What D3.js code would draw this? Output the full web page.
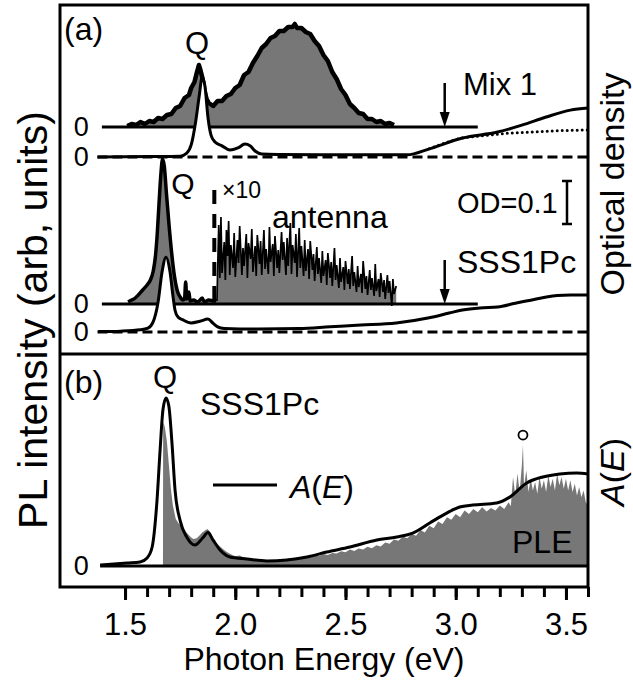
<!DOCTYPE html>
<html lang="en">
<head>
<meta charset="utf-8">
<title>PL, optical density and PLE spectra</title>
<script src="https://d3js.org/d3.v7.min.js"></script>
<style>
  body { margin: 0; background: #fff; }
  text { font-family: "Liberation Sans", Arial, sans-serif; fill: #000; }
</style>
</head>
<body>
<script>
// frame
var w = 633, h = 682;
var frameL = 60, frameR = 588, frameT = 5, frameM = 354, frameB = 587;
var grey = "#777777";

// ---- data (photon energy eV, value) ----
// panel (a): PL in arb. units, OD in optical density
var mix1PL = [[1.51,1],[1.53,3],[1.55,2],[1.57,5],[1.59,3],[1.61,6],[1.63,5],[1.65,9],[1.67,8],[1.69,12],[1.71,13],
  [1.73,19],[1.75,21],[1.77,29],[1.79,32],[1.80,39],[1.815,45],[1.825,54],[1.835,62],[1.842,57],[1.85,50],[1.86,37],
  [1.87,28],[1.88,24],[1.90,21],[1.92,26],[1.94,26],[1.96,31],[1.98,33],[2.00,39],[2.02,42],[2.04,52],[2.06,55],
  [2.08,64],[2.10,71],[2.12,79],[2.14,83],[2.16,89],[2.18,91],[2.20,96],[2.22,96],[2.24,100],[2.26,100],[2.27,103],
  [2.28,99],[2.30,99],[2.32,95],[2.34,93],[2.36,86],[2.38,81],[2.40,72],[2.42,66],[2.44,55],[2.46,48],[2.48,38],
  [2.50,32],[2.52,23],[2.54,19],[2.56,14],[2.58,13],[2.60,8],[2.62,8],[2.64,5],[2.66,6],[2.68,3],[2.70,4],[2.72,2]];

var mix1OD = [[1.375,0],[1.61,0.001],[1.75,0.002],[1.78,0.009],[1.80,0.028],[1.82,0.081],[1.836,0.14],[1.85,0.186],
  [1.863,0.163],[1.876,0.093],[1.89,0.051],[1.908,0.035],[1.94,0.026],[1.976,0.016],[2.012,0.021],[2.044,0.03],
  [2.067,0.026],[2.09,0.014],[2.12,0.007],[2.2,0.006],[2.48,0.005],[2.78,0.005],[2.88,0.019],[3.03,0.044],
  [3.19,0.058],[3.30,0.074],[3.41,0.093],[3.52,0.109],[3.60,0.114]];

// dotted: Mix 1 OD without the scattering background
var mix1ODcorr = [[2.88,0.019],[3.03,0.044],[3.11,0.049],[3.19,0.053],[3.26,0.056],[3.34,0.058],[3.41,0.060],
  [3.52,0.062],[3.60,0.063]];

var sssPL = [[1.514,2],[1.53,4],[1.54,5],[1.56,9],[1.58,14],[1.60,19],[1.615,24],[1.628,33],[1.638,48],[1.646,70],
  [1.654,100],[1.662,128],[1.67,145],[1.678,138],[1.688,110],[1.70,78],[1.712,50],[1.724,28],[1.736,14],[1.75,7],
  [1.763,4],[1.77,5],[1.775,22],[1.78,5],[1.79,12],[1.795,3],[1.81,4],[1.83,2],[1.85,6],[1.86,2],[1.88,4],
  [1.90,3],[1.915,3]];

// antenna emission, true scale (drawn x10)
var antennaPL = [[1.917,0.3],[1.92,3.4],[1.925,7.9],[1.93,2.6],[1.935,8.7],[1.94,3.1],[1.95,6.2],[1.955,2.4],
  [1.96,7.4],[1.965,4.8],[1.97,8.3],[1.975,2.9],[1.98,5.9],[1.99,3.6],[1.995,7.1],[2.00,2.7],[2.01,6.4],[2.015,4.1],
  [2.02,7.8],[2.03,2.9],[2.035,5.6],[2.04,3.8],[2.05,7.0],[2.055,2.6],[2.06,6.1],[2.07,4.5],[2.075,7.5],[2.08,3.2],
  [2.09,5.8],[2.095,2.8],[2.10,6.9],[2.11,4.0],[2.115,6.3],[2.12,2.9],[2.13,7.4],[2.135,3.5],[2.14,5.5],[2.15,3.0],
  [2.155,7.7],[2.16,4.2],[2.17,6.0],[2.175,2.8],[2.18,6.8],[2.19,3.6],[2.195,5.4],[2.20,3.1],[2.21,7.2],[2.215,4.4],
  [2.22,6.2],[2.23,2.9],[2.235,6.6],[2.24,3.8],[2.25,8.1],[2.255,3.0],[2.26,5.9],[2.27,4.1],[2.275,7.0],[2.28,2.7],
  [2.29,7.6],[2.295,3.6],[2.30,5.8],[2.31,2.8],[2.315,6.4],[2.32,3.3],[2.33,5.5],[2.335,2.5],[2.34,6.3],[2.35,3.4],
  [2.355,5.0],[2.36,2.3],[2.37,5.7],[2.375,3.0],[2.38,4.6],[2.39,2.1],[2.395,5.3],[2.40,2.8],[2.41,4.4],[2.415,1.9],
  [2.42,5.1],[2.43,2.6],[2.435,4.2],[2.44,1.8],[2.45,5.6],[2.455,2.4],[2.46,3.9],[2.47,1.6],[2.475,4.6],[2.48,2.2],
  [2.49,3.7],[2.495,1.4],[2.50,4.3],[2.51,2.0],[2.515,3.5],[2.52,1.5],[2.53,4.8],[2.535,1.8],[2.54,3.2],[2.55,1.2],
  [2.555,3.8],[2.56,1.7],[2.57,3.0],[2.575,1.1],[2.58,4.3],[2.59,1.5],[2.595,2.8],[2.60,0.9],[2.61,3.4],[2.615,1.4],
  [2.62,2.6],[2.63,0.8],[2.635,4.0],[2.64,1.3],[2.65,2.5],[2.655,0.7],[2.66,3.1],[2.67,1.2],[2.675,2.4],[2.68,0.5],
  [2.69,2.9],[2.695,1.1],[2.70,2.3],[2.71,-0.2],[2.715,2.5],[2.72,1.0],[2.73,1.8]];

var sssOD = [[1.378,0.001],[1.48,0.002],[1.57,0.005],[1.604,0.009],[1.627,0.023],[1.65,0.07],[1.668,0.14],
  [1.686,0.174],[1.704,0.14],[1.718,0.081],[1.727,0.05],[1.74,0.035],[1.763,0.028],[1.80,0.021],[1.84,0.025],
  [1.876,0.03],[1.90,0.02],[1.92,0.012],[1.95,0.008],[2.02,0.007],[2.11,0.007],[2.29,0.008],[2.43,0.012],
  [2.57,0.016],[2.73,0.021],[2.88,0.033],[2.97,0.044],[3.03,0.051],[3.11,0.056],[3.19,0.058],[3.27,0.067],
  [3.34,0.074],[3.405,0.081],[3.46,0.085],[3.52,0.086],[3.60,0.086]];

// panel (b): absorptance A(E) and PLE, normalised to the Q peak of A(E)
var absorptance = [[1.387,0.006],[1.509,0.018],[1.568,0.024],[1.60,0.048],[1.623,0.113],[1.645,0.39],[1.659,0.69],
  [1.672,0.93],[1.686,1.0],[1.699,0.95],[1.713,0.73],[1.727,0.45],[1.75,0.27],[1.781,0.17],[1.817,0.125],
  [1.854,0.17],[1.876,0.2],[1.899,0.155],[1.931,0.095],[1.976,0.054],[2.053,0.042],[2.143,0.03],[2.234,0.036],
  [2.325,0.054],[2.415,0.083],[2.52,0.113],[2.642,0.155],[2.733,0.173],[2.805,0.196],[2.882,0.256],[2.959,0.315],
  [3.018,0.351],[3.077,0.363],[3.186,0.375],[3.245,0.41],[3.322,0.494],[3.395,0.53],[3.472,0.548],[3.549,0.554],
  [3.6,0.548]];

var ple = [[1.672,0],[1.673,0.857],[1.68,0.83],[1.69,0.74],[1.699,0.60],[1.708,0.46],[1.717,0.36],[1.73,0.28],
  [1.745,0.25],[1.76,0.245],[1.77,0.21],[1.785,0.19],[1.80,0.17],[1.81,0.16],[1.825,0.165],[1.84,0.185],[1.85,0.20],
  [1.866,0.215],[1.875,0.22],[1.89,0.195],[1.90,0.16],[1.92,0.13],[1.94,0.105],[1.96,0.085],[1.98,0.07],[2.00,0.058],
  [2.02,0.062],[2.04,0.05],[2.06,0.046],[2.08,0.04],[2.10,0.042],[2.12,0.034],[2.14,0.036],[2.16,0.03],[2.18,0.034],
  [2.20,0.038],[2.22,0.035],[2.24,0.044],[2.26,0.04],[2.28,0.05],[2.30,0.047],[2.32,0.058],[2.34,0.055],[2.36,0.068],
  [2.38,0.06],[2.40,0.072],[2.42,0.066],[2.44,0.078],[2.46,0.074],[2.48,0.088],[2.50,0.082],[2.52,0.098],[2.54,0.09],
  [2.56,0.104],[2.58,0.098],[2.60,0.114],[2.62,0.106],[2.64,0.124],[2.66,0.116],[2.68,0.14],[2.70,0.132],[2.72,0.158],
  [2.74,0.15],[2.76,0.175],[2.78,0.165],[2.80,0.19],[2.82,0.18],[2.84,0.215],[2.86,0.2],[2.88,0.24],[2.90,0.225],
  [2.92,0.265],[2.94,0.25],[2.96,0.29],[2.98,0.275],[3.00,0.31],[3.02,0.29],[3.04,0.33],[3.06,0.31],[3.08,0.34],
  [3.10,0.32],[3.12,0.35],[3.14,0.325],[3.16,0.345],[3.18,0.33],[3.20,0.36],[3.22,0.34],[3.24,0.38],[3.25,0.355],
  [3.26,0.53],[3.27,0.42],[3.28,0.55],[3.29,0.44],[3.30,0.6],[3.305,0.72],[3.31,0.47],[3.32,0.57],[3.33,0.44],
  [3.34,0.52],[3.35,0.45],[3.36,0.5],[3.37,0.43],[3.38,0.53],[3.39,0.46],[3.40,0.51],[3.41,0.44],[3.42,0.54],
  [3.43,0.47],[3.44,0.52],[3.45,0.45],[3.46,0.55],[3.47,0.48],[3.48,0.53],[3.49,0.46],[3.50,0.52],[3.51,0.45],
  [3.52,0.51],[3.53,0.44],[3.54,0.49],[3.55,0.42],[3.56,0.47],[3.57,0.41],[3.58,0.45],[3.59,0.38],[3.60,0.36]];

var minorTicks = [1.5,1.6,1.7,1.8,1.9,2.0,2.1,2.2,2.3,2.4,2.5,2.6,2.7,2.8,2.9,3.0,3.1,3.2,3.3,3.4,3.5,3.6];
var majorTicks = [1.5,2.0,2.5,3.0,3.5];

// ---- scales ----
var x = d3.scaleLinear().domain([1.205, 3.6]).range([frameL, frameR]);
// panel (a) in stacked arb. units; 0.1 OD = 43 units
var ya = d3.scaleLinear().domain([-22, 327]).range([frameM, frameT]);
var odGain = 430;
var base = { mixPL: 205, mixOD: 175, sssPL: 28, sssOD: 0 };
var yb = d3.scaleLinear().domain([-0.125, 1.262]).range([frameB, frameM]);

var svg = d3.select("body").append("svg").attr("width", w).attr("height", h);

function lineGen(y, b, k, c) {
  return d3.line().curve(c || d3.curveLinear).x(function(d) { return x(d[0]); })
    .y(function(d) { return y(b + k * d[1]); });
}
function areaGen(y, b, k, c) {
  return d3.area().curve(c || d3.curveLinear).x(function(d) { return x(d[0]); })
    .y0(y(b)).y1(function(d) { return y(b + k * d[1]); });
}
function hline(y, v, e0, e1) {
  return svg.append("line").attr("x1", x(e0)).attr("x2", x(e1)).attr("y1", y(v)).attr("y2", y(v))
    .attr("stroke", "#000").attr("stroke-width", 3);
}
var smooth = d3.curveMonotoneX;

// ---- panel (a): Mix 1 ----
svg.append("path").datum(mix1PL).attr("d", areaGen(ya, base.mixPL, 1)).attr("fill", grey);
svg.append("path").datum(mix1PL).attr("d", lineGen(ya, base.mixPL, 1))
  .attr("fill", "none").attr("stroke", "#000").attr("stroke-width", 4.5).attr("stroke-linejoin", "round");
hline(ya, base.mixPL, 1.395, 3.1);

svg.append("path").datum(mix1OD).attr("d", areaGen(ya, base.mixOD, odGain, smooth)).attr("fill", "#fff");
hline(ya, base.mixOD, 1.375, 3.6).attr("stroke-dasharray", "10,5");
svg.append("path").datum(mix1ODcorr).attr("d", lineGen(ya, base.mixOD, odGain, smooth))
  .attr("fill", "none").attr("stroke", "#000").attr("stroke-width", 3)
  .attr("stroke-dasharray", "0,5").attr("stroke-linecap", "round");
svg.append("path").datum(mix1OD).attr("d", lineGen(ya, base.mixOD, odGain, smooth))
  .attr("fill", "none").attr("stroke", "#000").attr("stroke-width", 3);

// ---- panel (a): SSS1Pc ----
svg.append("path").datum(sssPL).attr("d", areaGen(ya, base.sssPL, 1, smooth)).attr("fill", grey);
svg.append("path").datum(sssPL).attr("d", lineGen(ya, base.sssPL, 1, smooth))
  .attr("fill", "none").attr("stroke", "#000").attr("stroke-width", 3.5);
svg.append("path").datum(antennaPL).attr("d", areaGen(ya, base.sssPL, 10)).attr("fill", grey);
svg.append("path").datum(antennaPL).attr("d", lineGen(ya, base.sssPL, 10))
  .attr("fill", "none").attr("stroke", "#000").attr("stroke-width", 1.7);
hline(ya, base.sssPL, 1.395, 3.1);

svg.append("path").datum(sssOD).attr("d", areaGen(ya, base.sssOD, odGain, smooth)).attr("fill", "#fff");
hline(ya, base.sssOD, 1.375, 3.6).attr("stroke-dasharray", "10,5");
svg.append("path").datum(sssOD).attr("d", lineGen(ya, base.sssOD, odGain, smooth))
  .attr("fill", "none").attr("stroke", "#000").attr("stroke-width", 3);

// x10 marker
svg.append("line").attr("x1", x(1.905)).attr("x2", x(1.905))
  .attr("y1", ya(base.sssPL + 4)).attr("y2", ya(base.sssPL + 124))
  .attr("stroke", "#000").attr("stroke-width", 4).attr("stroke-dasharray", "14,10");

// excitation arrows
function arrow(b) {
  var ex = x(2.95), y0 = ya(b + 44), y1 = ya(b);
  svg.append("line").attr("x1", ex).attr("x2", ex).attr("y1", y0).attr("y2", y1 - 12)
    .attr("stroke", "#000").attr("stroke-width", 2.5);
  svg.append("path").attr("d", "M" + (ex - 5) + "," + (y1 - 15) + "L" + (ex + 5) + "," + (y1 - 15) + "L" + ex + "," + y1 + "Z")
    .attr("fill", "#000");
}
arrow(base.mixPL);
arrow(base.sssPL);

// OD = 0.1 scale bar
var barX = 567, barTop = ya(151), barBot = ya(151 - 0.1 * odGain);
svg.append("path").attr("d", "M" + (barX - 5) + "," + barTop + "H" + (barX + 5) + "M" + barX + "," + barTop +
  "V" + barBot + "M" + (barX - 5) + "," + barBot + "H" + (barX + 5))
  .attr("fill", "none").attr("stroke", "#000").attr("stroke-width", 2.5);

// ---- panel (b) ----
svg.append("path").datum(ple).attr("d", areaGen(yb, 0, 1)).attr("fill", grey);
hline(yb, 0, 1.387, 3.6);
svg.append("path").datum(absorptance).attr("d", lineGen(yb, 0, 1, smooth))
  .attr("fill", "none").attr("stroke", "#000").attr("stroke-width", 3);
svg.append("circle").attr("cx", x(3.305)).attr("cy", yb(0.72) - 10).attr("r", 4.5)
  .attr("fill", "none").attr("stroke", "#000").attr("stroke-width", 1.8);
svg.append("line").attr("x1", 213).attr("x2", 277).attr("y1", 485).attr("y2", 485)
  .attr("stroke", "#000").attr("stroke-width", 3);

// ---- frame and axis ----
svg.append("rect").attr("x", frameL).attr("y", frameT).attr("width", frameR - frameL).attr("height", frameB - frameT)
  .attr("fill", "none").attr("stroke", "#000").attr("stroke-width", 3);
svg.append("line").attr("x1", frameL).attr("x2", frameR).attr("y1", frameM).attr("y2", frameM)
  .attr("stroke", "#000").attr("stroke-width", 3);

var minorAxis = d3.axisBottom(x).tickValues(minorTicks).tickSize(10).tickFormat("");
var majorAxis = d3.axisBottom(x).tickValues(majorTicks).tickSize(13).tickPadding(13).tickFormat(d3.format(".1f"));
[minorAxis, majorAxis].forEach(function(ax) {
  var g = svg.append("g").attr("transform", "translate(0," + frameB + ")").call(ax);
  g.select(".domain").remove();
  g.selectAll(".tick line").attr("stroke", "#000").attr("stroke-width", 3);
  g.selectAll(".tick text").style("font-family", '"Liberation Sans", Arial, sans-serif')
    .style("font-size", "31px").attr("fill", "#000");
});

// ---- text ----
function label(t, px, py, size, anchor) {
  return svg.append("text").attr("x", px).attr("y", py).style("font-size", size + "px")
    .attr("text-anchor", anchor || "start").text(t);
}
label("(a)", 64, 40, 32);
label("Q", 197, 54, 31, "middle");
label("Mix 1", 463, 95, 31);
label("Q", 183, 194, 30, "middle");
label("\u00d710", 222, 198, 23);
label("antenna", 272, 228, 32);
label("OD=0.1", 457, 213, 29);
label("SSS1Pc", 457, 273, 32);
label("(b)", 64, 393, 32);
label("Q", 165, 388, 31, "middle");
label("SSS1Pc", 200, 415, 32);
label("PLE", 512, 553, 32);

var leg = svg.append("text").attr("x", 290).attr("y", 498).style("font-size", "32px");
leg.append("tspan").style("font-style", "italic").text("A");
leg.append("tspan").text("(");
leg.append("tspan").style("font-style", "italic").text("E");
leg.append("tspan").text(")");

// zero labels
[[ya, base.mixPL], [ya, base.mixOD], [ya, base.sssPL], [ya, base.sssOD], [yb, 0]].forEach(function(z) {
  label("0", x(1.335), z[0](z[1]) + 9, 27, "end");
});

// axis titles
label("Photon Energy (eV)", (frameL + frameR) / 2, 670, 32, "middle");
svg.append("text").attr("transform", "translate(47,320) rotate(-90)").attr("text-anchor", "middle")
  .style("font-size", "41px").text("PL intensity (arb, units)");
svg.append("text").attr("transform", "translate(624,184) rotate(-90)").attr("text-anchor", "middle")
  .style("font-size", "34px").text("Optical density");
var ae = svg.append("text").attr("transform", "translate(624,472) rotate(-90)").attr("text-anchor", "middle")
  .style("font-size", "34px");
ae.append("tspan").style("font-style", "italic").text("A");
ae.append("tspan").text("(");
ae.append("tspan").style("font-style", "italic").text("E");
ae.append("tspan").text(")");
</script>
</body>
</html>
